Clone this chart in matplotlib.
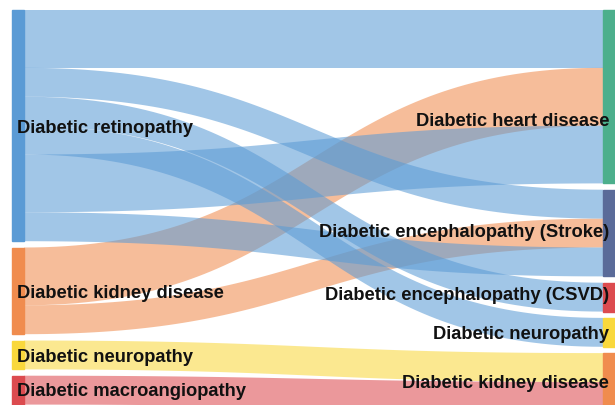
import numpy as np
import matplotlib.pyplot as plt
from matplotlib.patches import Rectangle, Polygon

plt.rcParams['font.family'] = ['Liberation Sans', 'DejaVu Sans']

#%% data
left_nodes = ['Diabetic retinopathy', 'Diabetic kidney disease',
              'Diabetic neuropathy', 'Diabetic macroangiopathy']
right_nodes = ['Diabetic heart disease', 'Diabetic encephalopathy (Stroke)',
               'Diabetic encephalopathy (CSVD)', 'Diabetic neuropathy',
               'Diabetic kidney disease']
left_colors = ['#5b9bd5', '#f08c4e', '#f9d83c', '#dc4b4f']
right_colors = ['#4caf8c', '#5a6b99', '#dc4b4f', '#f9d83c', '#f08c4e']

# links (source = left node, target = right node), drawn in this order
link_src = [1, 1, 0, 0, 0, 0, 0, 0, 2, 3]
link_tgt = [0, 1, 0, 1, 2, 3, 0, 1, 4, 4]
link_val = [2, 1, 2, 1, 1, 1, 2, 1, 1, 1]
# stacking order of the links on the right side nodes
tgt_order = [2, 0, 6, 3, 1, 7, 4, 5, 8, 9]

# label nudges (px)
left_dy = [3, 3, 2.5, 1.5]
right_dy = [25, -1, -1.5, 2, 2]

#%% layout
unit = 28.9   # px per unit of value
pad = 6.3
top = 10
xl0, xl1 = 12, 24
xr0, xr1 = 603, 615


def stack(totals):
    pos = []
    y = top
    for v in totals:
        pos.append((y, y + v * unit))
        y += v * unit + pad
    return pos


left_tot = [sum(v for s, v in zip(link_src, link_val) if s == i) for i in range(len(left_nodes))]
right_tot = [sum(v for t, v in zip(link_tgt, link_val) if t == i) for i in range(len(right_nodes))]
left_pos = stack(left_tot)
right_pos = stack(right_tot)

# where each link sits on its source / target
src_y = {}
cur = [p[0] for p in left_pos]
for i, (s, v) in enumerate(zip(link_src, link_val)):
    src_y[i] = (cur[s], cur[s] + v * unit)
    cur[s] += v * unit
tgt_y = {}
cur = [p[0] for p in right_pos]
for i in tgt_order:
    t = link_tgt[i]
    tgt_y[i] = (cur[t], cur[t] + link_val[i] * unit)
    cur[t] += link_val[i] * unit


def band(y0a, y0b, y1a, y1b, x0=xl1, x1=xr0):
    t = np.linspace(0, 1, 80)
    xm = (x0 + x1) / 2
    x = (1-t)**3*x0 + 3*(1-t)**2*t*xm + 3*(1-t)*t**2*xm + t**3*x1
    s = 3*t**2 - 2*t**3
    upper = y0a + (y1a - y0a) * s
    lower = y0b + (y1b - y0b) * s
    return np.vstack([np.column_stack([x, upper]),
                      np.column_stack([x[::-1], lower[::-1]])])


#%% plot
fig = plt.figure(figsize=(6.15, 4.05), dpi=100)
ax = fig.add_axes([0, 0, 1, 1])
ax.set_xlim(0, 615)
ax.set_ylim(405, 0)
ax.axis('off')

for i in range(len(link_val)):
    (a0, b0), (a1, b1) = src_y[i], tgt_y[i]
    ax.add_patch(Polygon(band(a0, b0, a1, b1), closed=True,
                         facecolor=left_colors[link_src[i]], alpha=0.57,
                         edgecolor='none'))

for (y0, y1), c in zip(left_pos, left_colors):
    ax.add_patch(Rectangle((xl0, y0), xl1 - xl0, y1 - y0, color=c))
for (y0, y1), c in zip(right_pos, right_colors):
    ax.add_patch(Rectangle((xr0, y0), xr1 - xr0, y1 - y0, color=c))

for name, (y0, y1), dy in zip(left_nodes, left_pos, left_dy):
    ax.text(xl0 + 5, (y0 + y1) / 2 + dy, name, ha='left', va='center',
            fontsize=13.2, fontweight='bold', color='#111111')
for name, (y0, y1), dy in zip(right_nodes, right_pos, right_dy):
    ax.text(xr0 + 6, (y0 + y1) / 2 + dy, name, ha='right', va='center',
            fontsize=13.2, fontweight='bold', color='#111111')

fig.savefig('out.png', dpi=100)
